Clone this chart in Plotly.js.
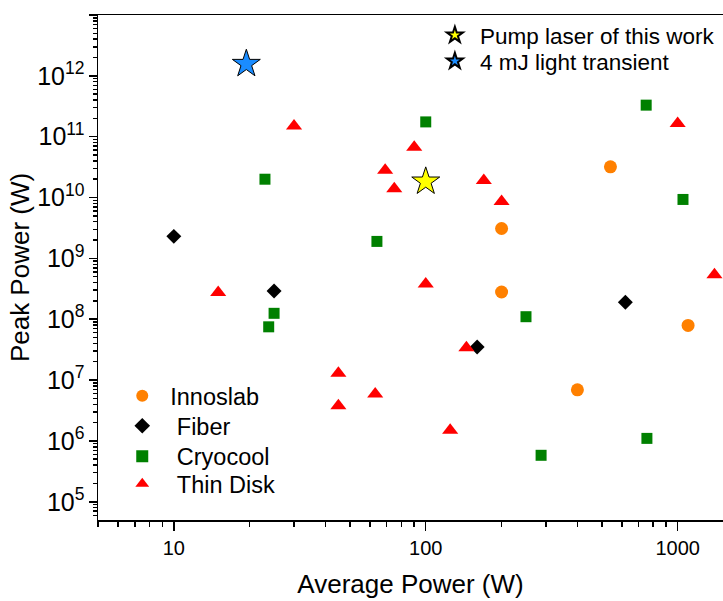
<!DOCTYPE html>
<html>
<head>
<meta charset="utf-8">
<script src="https://cdn.plot.ly/plotly-3.0.1.min.js"></script>
<style>html,body{margin:0;padding:0;background:#fff;}#chart{width:723px;height:601px;}</style>
</head>
<body>
<div id="chart"></div>
<script>
// Data (Average Power in W, Peak Power in W)
const innoslabX = [541, 1100, 200, 200, 400];
const innoslabY = [3.2e10, 7.9e7, 3.1e9, 2.8e8, 6.9e6];

const fiberX = [10, 25, 160, 620];
const fiberY = [2.3e9, 2.9e8, 3.5e7, 1.9e8];

const cryoX = [23, 100, 64, 25, 23.8, 250, 287, 750, 1050, 755];
const cryoY = [2.0e10, 1.75e11, 1.9e9, 1.25e8, 7.5e7, 1.1e8, 5.8e5, 3.3e11, 9.3e9, 1.1e6];

const thinX = [30, 90, 69, 75, 170, 200, 100, 145, 125, 15, 45, 45, 63, 1000, 1400];
const thinY = [1.5e11, 6.7e10, 2.8e10, 1.4e10, 1.9e10, 8.6e9, 3.8e8, 3.4e7, 1.5e6, 2.75e8, 1.3e7, 3.8e6, 5.9e6, 1.65e11, 5.4e8];

const pumpX = [100];
const pumpY = [1.83e10];

const transientX = [19.4];
const transientY = [1.57e12];

const seriesNames = ["Innoslab", "\u00A0Fiber", "\u00A0Cryocool", "\u00A0Thin Disk"];
const starNames = ["Pump laser of this work", "4 mJ light transient"];

const FONT = "Liberation Sans, Arial, Helvetica, sans-serif";

const traces = [
  {x: innoslabX, y: innoslabY, name: seriesNames[0], mode: "markers", type: "scatter", legend: "legend3",
   marker: {symbol: "circle", size: 13, color: "#FF8000"}},
  {x: fiberX, y: fiberY, name: seriesNames[1], mode: "markers", type: "scatter", legend: "legend4",
   marker: {symbol: "diamond", size: 11.5, color: "#000000"}},
  {x: cryoX, y: cryoY, name: seriesNames[2], mode: "markers", type: "scatter", legend: "legend5",
   marker: {symbol: "square", size: 11, color: "#008000"}},
  {x: thinX, y: thinY, name: seriesNames[3], mode: "markers", type: "scatter", legend: "legend6",
   marker: {symbol: "triangle-up", size: 14, color: "#FF0000"}},
  {x: pumpX, y: pumpY, name: starNames[0], mode: "markers", type: "scatter", legend: "legend",
   marker: {symbol: "star", size: 21, color: "#FFFF00", line: {color: "#000000", width: 1}}},
  {x: transientX, y: transientY, name: starNames[1], mode: "markers", type: "scatter", legend: "legend2",
   marker: {symbol: "star", size: 21, color: "#1A8CFF", line: {color: "#000000", width: 1}}}
];

function leg(x, y, size, iw) {
  return {
    x: x, y: y, xanchor: "left", yanchor: "top",
    bgcolor: "rgba(0,0,0,0)", borderwidth: 0,
    font: {family: FONT, size: size, color: "#000000"},
    itemwidth: iw, itemsizing: "constant", tracegroupgap: 0
  };
}

const layout = {
  width: 723, height: 601,
  margin: {l: 98, r: 0, t: 15, b: 81, pad: 0},
  paper_bgcolor: "#ffffff", plot_bgcolor: "#ffffff",
  font: {family: FONT, color: "#000000", size: 20},
  showlegend: true,
  xaxis: {
    type: "log", range: [Math.log10(5), 3.18], automargin: false,
    showline: true, linecolor: "#000000", linewidth: 1.5, mirror: true,
    showgrid: false, zeroline: false,
    ticks: "outside", ticklen: 9, tickwidth: 1.5, tickcolor: "#000000",
    dtick: 1, exponentformat: "none",
    minor: {ticks: "outside", ticklen: 5, tickwidth: 1.5, tickcolor: "#000000", dtick: "D1", showgrid: false},
    tickfont: {family: FONT, size: 20, color: "#000000"},
    title: {text: "Average Power (W)", font: {family: FONT, size: 26, color: "#000000"}, standoff: 17}
  },
  yaxis: {
    type: "log", range: [4.7, 13], automargin: false,
    showline: true, linecolor: "#000000", linewidth: 1.5, mirror: false,
    showgrid: false, zeroline: false,
    ticks: "outside", ticklen: 8, tickwidth: 1.5, tickcolor: "#000000",
    dtick: 1, exponentformat: "power",
    minor: {ticks: "outside", ticklen: 4, tickwidth: 1.5, tickcolor: "#000000", dtick: "D1", showgrid: false},
    tickfont: {family: FONT, size: 20, color: "#000000"},
    title: {text: "Peak Power (W)", font: {family: FONT, size: 26, color: "#000000"}, standoff: 0}
  },
  legend: leg(0.531, 1.002, 22.5, 40),
  legend2: leg(0.531, 0.9505, 22.5, 40),
  legend3: leg(0.026, 0.2891, 23.5, 46),
  legend4: leg(0.026, 0.2297, 23.5, 46),
  legend5: leg(0.026, 0.1693, 23.5, 46),
  legend6: leg(0.026, 0.1149, 23.5, 46)
};

Plotly.newPlot("chart", traces, layout, {staticPlot: true, displayModeBar: false});
</script>
</body>
</html>
